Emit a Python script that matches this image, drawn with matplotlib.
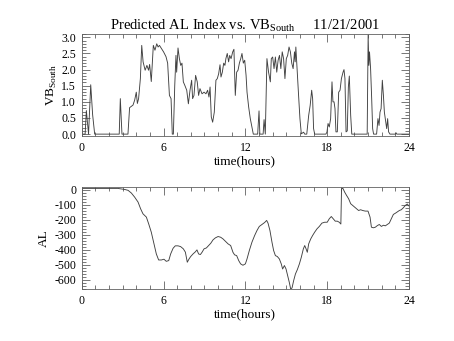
import numpy as np
import matplotlib.pyplot as plt
from matplotlib.ticker import MultipleLocator

plt.rcParams['font.family'] = 'Liberation Serif'
plt.rcParams['mathtext.fontset'] = 'custom'
plt.rcParams['mathtext.rm'] = 'Liberation Serif'
plt.rcParams['axes.unicode_minus'] = False

# VB_South
vb_hours = [0.0, 0.25, 0.34, 0.5, 0.66, 0.8, 0.95, 2.75, 2.83, 2.95, 3.39,
            3.51, 3.76, 3.88, 4.0, 4.08, 4.17, 4.3, 4.4, 4.5, 4.65, 4.78, 4.9,
            4.98, 5.1, 5.25, 5.37, 5.5, 5.6, 5.7, 5.85, 6.0, 6.18, 6.3, 6.43,
            6.55, 6.64, 6.72, 6.82, 6.91, 6.96, 7.06, 7.16, 7.26, 7.35, 7.45,
            7.57, 7.7, 7.82, 7.94, 8.06, 8.13, 8.23, 8.35, 8.47, 8.57, 8.67,
            8.82, 8.97, 9.11, 9.23, 9.33, 9.41, 9.5, 9.6, 9.72, 9.84, 9.94,
            10.04, 10.14, 10.21, 10.31, 10.41, 10.5, 10.57, 10.67, 10.77,
            10.85, 10.95, 11.07, 11.16, 11.26, 11.36, 11.46, 11.56, 11.66,
            11.75, 11.85, 11.95, 12.05, 12.12, 12.24, 12.36, 12.48, 12.58,
            12.9, 13.0, 13.06, 13.3, 13.37, 13.46, 13.58, 13.7, 13.83, 13.9,
            14.0, 14.1, 14.2, 14.3, 14.4, 14.5, 14.6, 14.7, 14.8, 14.9, 15.0,
            15.1, 15.2, 15.3, 15.4, 15.5, 15.6, 15.65, 15.7, 15.8, 15.9, 16.0,
            16.1, 16.27, 16.35, 16.5, 16.64, 16.75, 16.86, 16.93, 17.0, 17.08,
            17.9, 17.98, 18.06, 18.15, 18.25, 18.35, 18.42, 18.5, 18.57,
            18.64, 18.74, 18.84, 18.94, 19.04, 19.16, 19.23, 19.3, 19.38,
            19.47, 19.55, 19.62, 19.72, 19.8, 20.93, 21.0, 21.05, 21.1, 21.18,
            21.26, 21.33, 21.4, 21.62, 21.72, 21.8, 21.87, 21.95, 22.04,
            22.12, 22.19, 22.29, 22.36, 22.43, 22.5, 22.6, 23.0, 23.05, 23.1,
            24.0]
vb_south = [0.0, 0.0, 0.73, 0.0, 1.53, 0.6, 0.0, 0.0, 1.1, 0.0, 0.0,
            0.82, 0.9, 1.05, 1.3, 0.95, 1.1, 1.72, 2.75, 2.24, 1.98, 2.13, 1.98,
            2.16, 1.63, 2.75, 2.6, 2.8, 2.7, 2.75, 2.65, 2.55, 2.4, 2.2, 1.2,
            1.1, 0.0, 0.0, 1.5, 2.44, 1.92, 2.67, 2.34, 2.13, 2.2, 1.62,
            1.5, 1.36, 0.94, 1.36, 1.67, 1.1, 1.2, 1.82, 1.62, 1.2, 1.41,
            1.25, 1.3, 1.25, 1.36, 1.15, 1.46, 0.53, 0.37, 0.68, 1.67, 1.72,
            1.87, 2.15, 1.77, 1.92, 2.2, 2.13, 2.34, 2.5, 2.24,
            2.44, 2.34, 2.55, 2.63, 1.2, 1.92, 1.98, 2.2, 2.34,
            2.5, 2.2, 2.29, 1.82, 1.3, 0.84, 0.48, 0.22, 0.0,
            0.0, 0.72, 0.0, 0.0, 0.45, 0.0, 2.34, 1.92, 1.62, 2.34,
            2.39, 2.03, 2.39, 1.92, 2.29, 2.44, 2.03, 2.55, 2.34, 1.72, 2.34,
            2.44, 2.7, 2.55, 2.2, 2.03, 2.55, 2.24, 2.7, 1.92, 1.2, 0.48,
            0.01, 0.06, 0.0, 0.0, 0.58, 0.89, 1.36, 1.1, 0.17, 0.0,
            0.0, 0.06, 0.33, 0.22, 0.48, 1.62, 1.0, 1.0, 0.79,
            0.07, 0.07, 1.3, 1.36, 1.72, 1.92, 2.0, 1.72, 0.07,
            0.1, 1.46, 1.8, 0.58, 0.0, 0.0, 3.07, 2.13, 2.55, 2.03,
            1.1, 0.17, 0.0, 0.0, 0.48, 0.27, 0.68, 0.79, 1.67,
            1.2, 0.68, 0.37, 0.17, 0.48, 0.07, 0.0, 0.0, 0.04, 0.0,
            0.0]

# AL index
al_hours = [0.0, 2.66, 2.78, 3.15, 3.4, 3.64, 3.88, 4.13, 4.32, 4.49, 4.74,
            4.91, 5.1, 5.3, 5.47, 5.64, 5.84, 6.03, 6.2, 6.38, 6.52, 6.7, 6.86,
            7.06, 7.25, 7.45, 7.6, 7.74, 7.87, 7.99, 8.16, 8.33, 8.45, 8.57,
            8.7, 8.82, 8.97, 9.14, 9.31, 9.46, 9.63, 9.8, 10.0, 10.19, 10.36,
            10.53, 10.73, 10.92, 11.09, 11.21, 11.36, 11.51, 11.65, 11.82,
            12.0, 12.12, 12.29, 12.48, 12.68, 12.85, 13.02, 13.22, 13.41,
            13.56, 13.66, 13.8, 13.95, 14.07, 14.2, 14.34, 14.49, 14.63,
            14.73, 14.86, 14.98, 15.1, 15.22, 15.32, 15.42, 15.54, 15.67,
            15.81, 15.96, 16.1, 16.25, 16.35, 16.45, 16.54, 16.64, 16.79,
            16.93, 17.08, 17.25, 17.42, 17.61, 17.81, 18.0, 18.15, 18.3,
            18.44, 18.59, 18.74, 18.88, 19.0, 19.05, 19.15, 19.28, 19.42,
            19.57, 19.72, 19.86, 20.01, 20.16, 20.3, 20.45, 20.6, 20.79,
            20.99, 21.14, 21.24, 21.38, 21.53, 21.68, 21.82, 21.97, 22.12,
            22.26, 22.41, 22.55, 22.7, 22.85, 23.0, 23.14, 23.29, 23.43,
            23.58, 23.73, 23.87, 23.98]
al_index = [9, 9, 7, 2, -4, -22, -49, -82, -127, -160, -182,
            -227, -282, -360, -427, -467, -467, -462, -476, -471, -427, -389, -373,
            -373, -378, -393, -415, -482, -460, -444, -427, -413, -400, -427,
            -431, -416, -393, -387, -371, -356, -333, -320, -311, -316, -327,
            -342, -360, -371, -416, -433, -438, -471, -493, -502,
            -493, -460, -404, -349, -304, -271, -244, -231, -218,
            -204, -222, -271, -349, -404, -438, -444, -460, -493,
            -527, -504, -527, -571, -616, -660, -653, -604, -560,
            -531, -493, -449, -393, -371, -393, -416, -360, -327,
            -304, -282, -260, -244, -222, -216, -216, -193, -178,
            -193, -209, -209, -216, -228, 7, 9, -16, -38,
            -60, -93, -104, -116, -127, -138, -133, -138, -142,
            -142, -182, -249, -253, -249, -238, -231, -244, -236,
            -240, -231, -222, -193, -164, -156, -147, -138, -133,
            -120, -104, -95, -107]

line_color = '#404040'
axis_color = '#606060'

fig = plt.figure(figsize=(4.54, 3.41), dpi=100)
ax1 = fig.add_axes([0.18, 0.601, 0.721, 0.299])
ax2 = fig.add_axes([0.18, 0.1525, 0.721, 0.299])


def style(ax):
    ax.set_xlim(0, 24)
    ax.xaxis.set_major_locator(MultipleLocator(6))
    ax.xaxis.set_minor_locator(MultipleLocator(1))
    ax.tick_params(which='both', direction='in', top=True, right=True,
                   color=axis_color, width=0.6, labelsize=8.5, pad=4)
    ax.tick_params(which='major', length=6)
    ax.tick_params(which='minor', length=3)
    for s in ax.spines.values():
        s.set_color(axis_color)
        s.set_linewidth(0.6)
    ax.set_xlabel('time(hours)', fontsize=9.5, labelpad=1)


ax1.plot(vb_hours, vb_south, color=line_color, lw=0.65)
style(ax1)
ax1.set_ylim(-0.06, 3.1)
ax1.yaxis.set_major_locator(MultipleLocator(0.5))
ax1.yaxis.set_minor_locator(MultipleLocator(0.1))
ax1.set_yticks([0, 0.5, 1.0, 1.5, 2.0, 2.5, 3.0])
ax1.set_yticklabels(['0.0', '0.5', '1.0', '1.5', '2.0', '2.5', '3.0'])
ax1.set_ylabel('VB$_{\\mathrm{South}}$', fontsize=9.5, labelpad=2)
ax1.set_title('Predicted AL Index vs. VB$_{\\mathrm{South}}$     11/21/2001',
              fontsize=10.5, pad=3)

ax2.plot(al_hours, al_index, color=line_color, lw=0.65)
style(ax2)
ax2.set_ylim(-660, 18)
ax2.yaxis.set_major_locator(MultipleLocator(100))
ax2.yaxis.set_minor_locator(MultipleLocator(20))
ax2.set_ylabel('AL', fontsize=9.5, labelpad=3)

fig.savefig('out.png', dpi=100)
